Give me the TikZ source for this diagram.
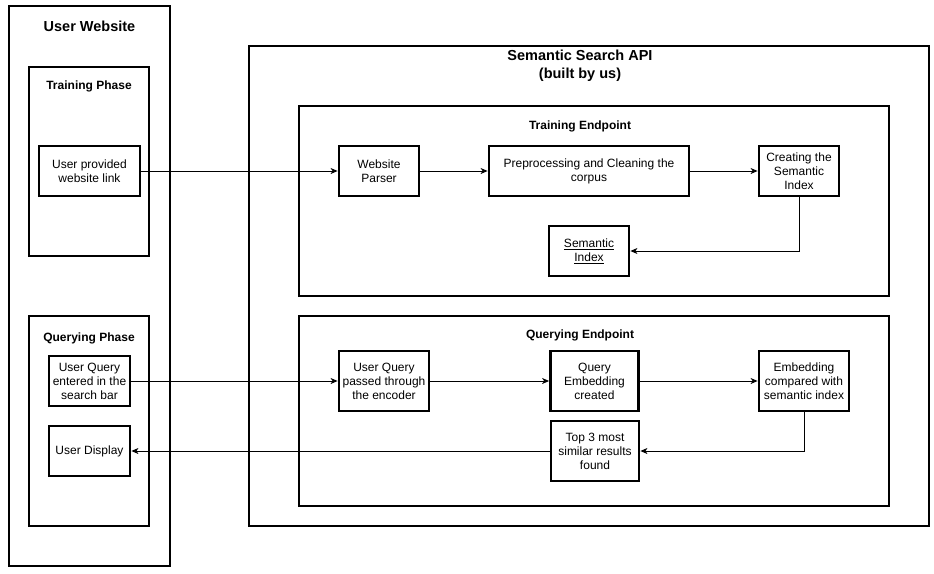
\documentclass[tikz,border=0pt]{standalone}
\usepackage{fontspec}
\setmainfont{Liberation Sans}
\usetikzlibrary{arrows.meta}
\begin{document}
\begin{tikzpicture}[x=1pt,y=-1pt,
 frame/.style={draw, line width=2.8pt, inner sep=0pt},
 box/.style={draw, line width=2.8pt, inner sep=0pt, align=center, font=\fontsize{12}{14}\selectfont},
 ttl/.style={font=\bfseries\fontsize{14.5}{18}\selectfont, align=center, inner sep=0pt},
 sub/.style={font=\bfseries\fontsize{12}{14}\selectfont, inner sep=0pt},
 conn/.style={line width=1pt, -{Stealth[length=7pt,width=6pt,inset=2pt]}}]
\useasboundingbox (0,0) rectangle (934,573);
% frames
\node[frame, minimum width=161, minimum height=560] (uw) at (89.5,286) {};
\node[frame, minimum width=120, minimum height=189] (tp) at (89,161.5) {};
\node[frame, minimum width=120, minimum height=210] (qp) at (89,421) {};
\node[frame, minimum width=680, minimum height=480] (api) at (589,286) {};
\node[frame, minimum width=590, minimum height=190] (te) at (594,201) {};
\node[frame, minimum width=590, minimum height=190] (qe) at (594,411) {};
% titles
\node[ttl] (uwt) at (89.5,26) {User Website};
\node[sub] (tpt) at (89,86) {Training Phase};
\node[sub] (qpt) at (89,338) {Querying Phase};
\node[ttl] (apit) at (580,66) {Semantic Search API\\(built by us)};
\node[sub] (tet) at (580,126) {Training Endpoint};
\node[sub] (qet) at (580,335) {Querying Endpoint};
% boxes
\node[box, minimum width=101, minimum height=50] (upl) at (89.5,171) {User provided\\website link};
\node[box, minimum width=81, minimum height=50] (uqe) at (89.5,381) {User Query\\entered in the\\search bar};
\node[box, minimum width=81, minimum height=50] (ud) at (89.5,451) {User Display};
\node[box, minimum width=80, minimum height=50] (wp) at (379,171) {Website\\Parser};
\node[box, minimum width=200, minimum height=50] (pre) at (589,171) {Preprocessing and Cleaning the\\corpus};
\node[box, minimum width=80, minimum height=50] (csi) at (799,171) {Creating the\\Semantic\\Index};
\node[box, minimum width=80, minimum height=50] (si) at (589,251) {\underline{Semantic}\\\underline{Index}};
\node[box, minimum width=90, minimum height=60] (uqp) at (384,381) {User Query\\passed through\\the encoder};
\node[box, minimum width=88, minimum height=60] (qec) at (594.5,381) {Query\\Embedding\\created};
\node[box, minimum width=90, minimum height=60] (emb) at (804,381) {Embedding\\compared with\\semantic index};
\node[box, minimum width=88, minimum height=60] (top3) at (595,451) {Top 3 most\\similar results\\found};
% connectors
\draw[conn] (upl.east) -- (wp.west);
\draw[conn] (wp) -- (pre);
\draw[conn] (pre) -- (csi);
\draw[conn] (csi.south) |- (si.east);
\draw[conn] (uqe.east) -- (uqp.west);
\draw[conn] (uqp) -- (qec);
\draw[conn] (qec) -- (emb);
\draw[conn] (emb.south) |- (top3.east);
\draw[conn] (top3.west) -- (ud.east);
\end{tikzpicture}
\end{document}
